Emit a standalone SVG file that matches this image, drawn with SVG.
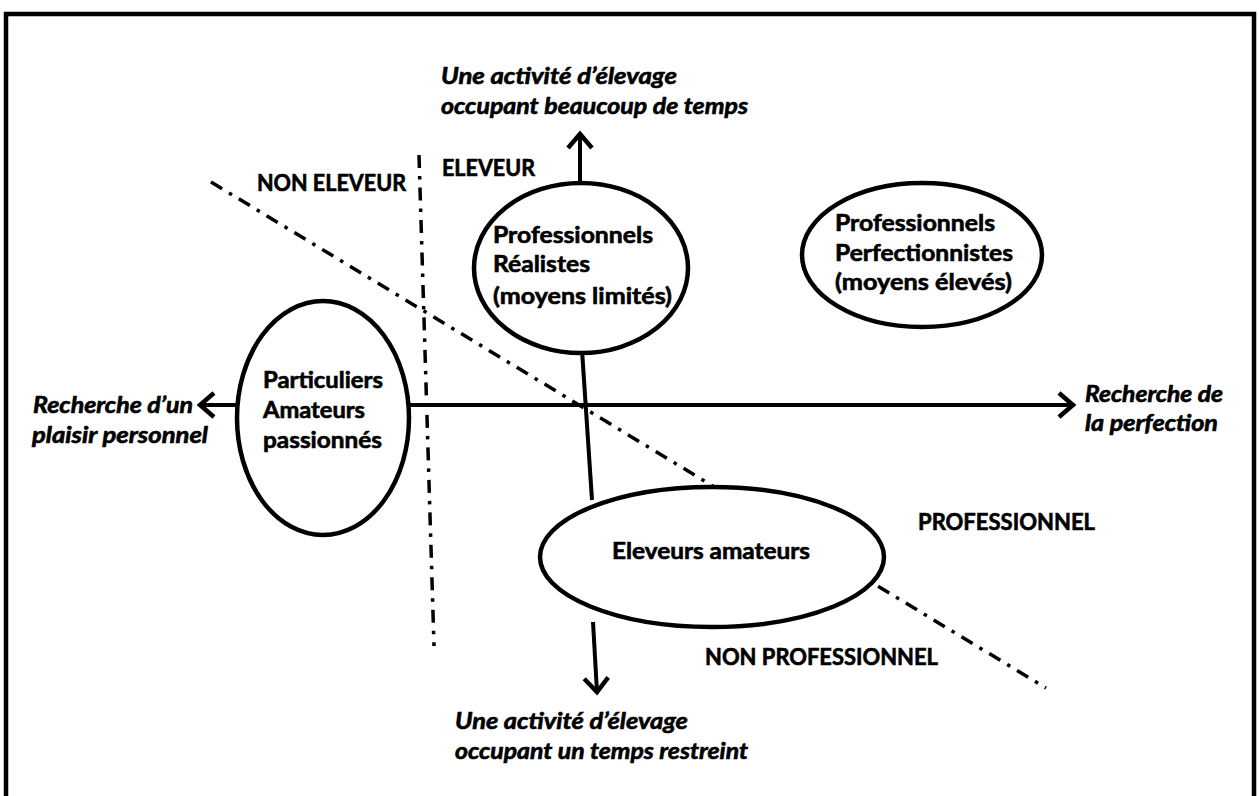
<svg xmlns="http://www.w3.org/2000/svg" width="1259" height="796" viewBox="0 0 1259 796">
<style>
.lbl{font-family:Lato,"Liberation Sans",sans-serif;font-weight:bold;font-size:22px;fill:#000;stroke:#000;stroke-width:0.6}
.it{font-style:italic}
.ax{stroke:#000;stroke-width:4;fill:none}
.dd{stroke:#000;stroke-width:3.5;fill:none;stroke-dasharray:13 8 3.5 8}
.el{stroke:#000;stroke-width:4.5;fill:#fff}
</style>
<defs>
<marker id="chev" markerUnits="userSpaceOnUse" markerWidth="40" markerHeight="40" viewBox="-20 -20 40 40" refX="0" refY="0" orient="auto">
<path d="M-14,-12 L0,0 L-14,12" fill="none" stroke="#000" stroke-width="4.5" stroke-linejoin="miter"/>
</marker>
</defs>
<rect x="6" y="14" width="1248" height="800" fill="#fff" stroke="#000" stroke-width="4.5"/>
<g id="connectors">
<line class="dd" x1="419" y1="155" x2="434" y2="646"/>
<line class="dd" x1="211" y1="182" x2="1046" y2="688"/>
<line class="ax" x1="580" y1="185" x2="580" y2="134" marker-end="url(#chev)"/>
<line class="ax" x1="582" y1="350" x2="592" y2="500"/>
<line class="ax" x1="593" y1="622" x2="597" y2="692" marker-end="url(#chev)"/>
<line class="ax" x1="240" y1="405" x2="200" y2="405" marker-end="url(#chev)"/>
<line class="ax" x1="408" y1="405" x2="1073" y2="405" marker-end="url(#chev)"/>
</g>
<g id="node-realistes">
<ellipse class="el" cx="581" cy="268" rx="107" ry="85"/>
<text class="lbl" x="493" y="243" textLength="160" lengthAdjust="spacingAndGlyphs">Professionnels</text>
<text class="lbl" x="493" y="272" textLength="97" lengthAdjust="spacingAndGlyphs">Réalistes</text>
<text class="lbl" x="493" y="304" textLength="179" lengthAdjust="spacingAndGlyphs">(moyens limités)</text>
</g>
<g id="node-perfectionnistes">
<ellipse class="el" cx="922" cy="255" rx="120" ry="72"/>
<text class="lbl" x="835" y="231" textLength="160" lengthAdjust="spacingAndGlyphs">Professionnels</text>
<text class="lbl" x="835" y="261" textLength="178" lengthAdjust="spacingAndGlyphs">Perfectionnistes</text>
<text class="lbl" x="835" y="290" textLength="177" lengthAdjust="spacingAndGlyphs">(moyens élevés)</text>
</g>
<g id="node-particuliers">
<ellipse class="el" cx="323" cy="418" rx="86" ry="117"/>
<text class="lbl" x="263" y="388" textLength="120" lengthAdjust="spacingAndGlyphs">Particuliers</text>
<text class="lbl" x="263" y="418" textLength="102" lengthAdjust="spacingAndGlyphs">Amateurs</text>
<text class="lbl" x="263" y="448" textLength="119" lengthAdjust="spacingAndGlyphs">passionnés</text>
</g>
<g id="node-amateurs">
<ellipse class="el" cx="712" cy="557" rx="172" ry="70"/>
<text class="lbl" x="612" y="559" textLength="198" lengthAdjust="spacingAndGlyphs">Eleveurs amateurs</text>
</g>
<g id="labels">
<text class="lbl" x="257" y="191" textLength="149" lengthAdjust="spacingAndGlyphs">NON ELEVEUR</text>
<text class="lbl" x="442" y="176" textLength="93" lengthAdjust="spacingAndGlyphs">ELEVEUR</text>
<text class="lbl" x="918" y="530" textLength="177" lengthAdjust="spacingAndGlyphs">PROFESSIONNEL</text>
<text class="lbl" x="705" y="665" textLength="233" lengthAdjust="spacingAndGlyphs">NON PROFESSIONNEL</text>
<text class="lbl it" x="441" y="84" textLength="236" lengthAdjust="spacingAndGlyphs">Une activité d’élevage</text>
<text class="lbl it" x="441" y="114" textLength="307" lengthAdjust="spacingAndGlyphs">occupant beaucoup de temps</text>
<text class="lbl it" x="455" y="729" textLength="233" lengthAdjust="spacingAndGlyphs">Une activité d’élevage</text>
<text class="lbl it" x="455" y="759" textLength="293" lengthAdjust="spacingAndGlyphs">occupant un temps restreint</text>
<text class="lbl it" x="33" y="413" textLength="160" lengthAdjust="spacingAndGlyphs">Recherche d’un</text>
<text class="lbl it" x="32" y="443" textLength="176" lengthAdjust="spacingAndGlyphs">plaisir personnel</text>
<text class="lbl it" x="1085" y="402" textLength="138" lengthAdjust="spacingAndGlyphs">Recherche de</text>
<text class="lbl it" x="1085" y="431" textLength="133" lengthAdjust="spacingAndGlyphs">la perfection</text>
</g>
</svg>
